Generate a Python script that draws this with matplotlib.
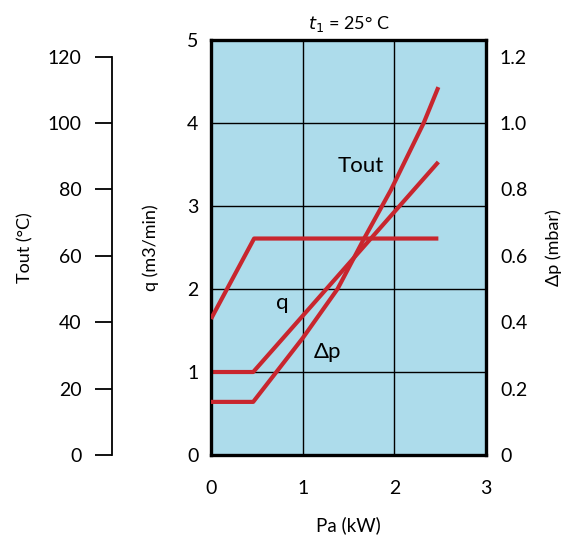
import matplotlib.pyplot as plt

plt.rcParams['font.family'] = ['Lato', 'DejaVu Sans']

# Tout (controlled outlet temperature), degC
pa_tout = [0.0, 0.47, 2.48]
tout = [41, 65.2, 65.2]

# q, m3/min
pa_q = [0.0, 0.46, 2.48]
q = [1.0, 1.0, 3.53]

# dp, mbar
pa_dp = [0.0, 0.46, 1.0, 1.38, 1.67, 1.96, 2.32, 2.48]
dp = [0.16, 0.16, 0.352, 0.5, 0.652, 0.797, 1.0, 1.108]

x_ticks = [0, 1, 2, 3]
q_ticks = [0, 1, 2, 3, 4, 5]
dp_ticks = [0, 0.2, 0.4, 0.6, 0.8, 1.0, 1.2]
dp_labels = ['0', '0.2', '0.4', '0.6', '0.8', '1.0', '1.2']
tout_ticks = [0, 20, 40, 60, 80, 100, 120]

red = '#C8262E'

fig = plt.figure(figsize=(5.72, 5.36), dpi=100)
ax = fig.add_axes([0.3689, 0.1511, 0.4808, 0.7743])
ax.set_facecolor('#ADDCEB')
ax.set_xlim(0, 3)
ax.set_ylim(0, 5)
ax.set_xticks(x_ticks)
ax.set_yticks(q_ticks)
ax.tick_params(length=0, labelsize=14, pad=9)
ax.tick_params(axis='x', pad=18)
ax.grid(True, color='black', lw=1)
ax.set_axisbelow(True)
for s in ax.spines.values():
    s.set_linewidth(2.4)
    s.set_zorder(5)

# right axis: dp
ax2 = ax.twinx()
ax2.set_ylim(0, 1.25)
ax2.set_yticks(dp_ticks)
ax2.set_yticklabels(dp_labels)
ax2.tick_params(length=0, labelsize=14, pad=10)
for s in ax2.spines.values():
    s.set_visible(False)

# separate left axis: Tout
ax3 = ax.twinx()
ax3.set_ylim(0, 125)
ax3.spines['left'].set_position(('axes', -0.36))
ax3.spines['left'].set_bounds(0, 120)
ax3.spines['left'].set_linewidth(1.3)
for side in ['right', 'top', 'bottom']:
    ax3.spines[side].set_visible(False)
ax3.yaxis.set_ticks_position('left')
ax3.yaxis.set_label_position('left')
ax3.set_yticks(tout_ticks)
ax3.tick_params(length=12, width=1.3, labelsize=14, pad=10)
ax3.set_ylabel('Tout (°C)', fontsize=13, labelpad=10)

ax.plot(pa_q, q, color=red, lw=3, solid_capstyle='butt', zorder=4)
ax2.plot(pa_dp, dp, color=red, lw=3, solid_capstyle='butt', zorder=4)
ax3.plot(pa_tout, tout, color=red, lw=3, solid_capstyle='butt', zorder=4)

ax.text(1.63, 3.48, 'Tout', fontsize=16, ha='center', va='center', zorder=6)
ax.text(0.78, 1.83, 'q', fontsize=16, ha='center', va='center', zorder=6)
ax.text(1.27, 1.24, 'Δp', fontsize=16, ha='center', va='center', zorder=6)

ax.set_xlabel('Pa (kW)', fontsize=13.5, labelpad=14)
ax.set_ylabel('q (m3/min)', fontsize=13, labelpad=20)
ax2.set_ylabel('Δp (mbar)', fontsize=13, labelpad=13)
ax.set_title('$t_1$ = 25° C', fontsize=13, pad=8)

fig.savefig('out.png', dpi=100)
